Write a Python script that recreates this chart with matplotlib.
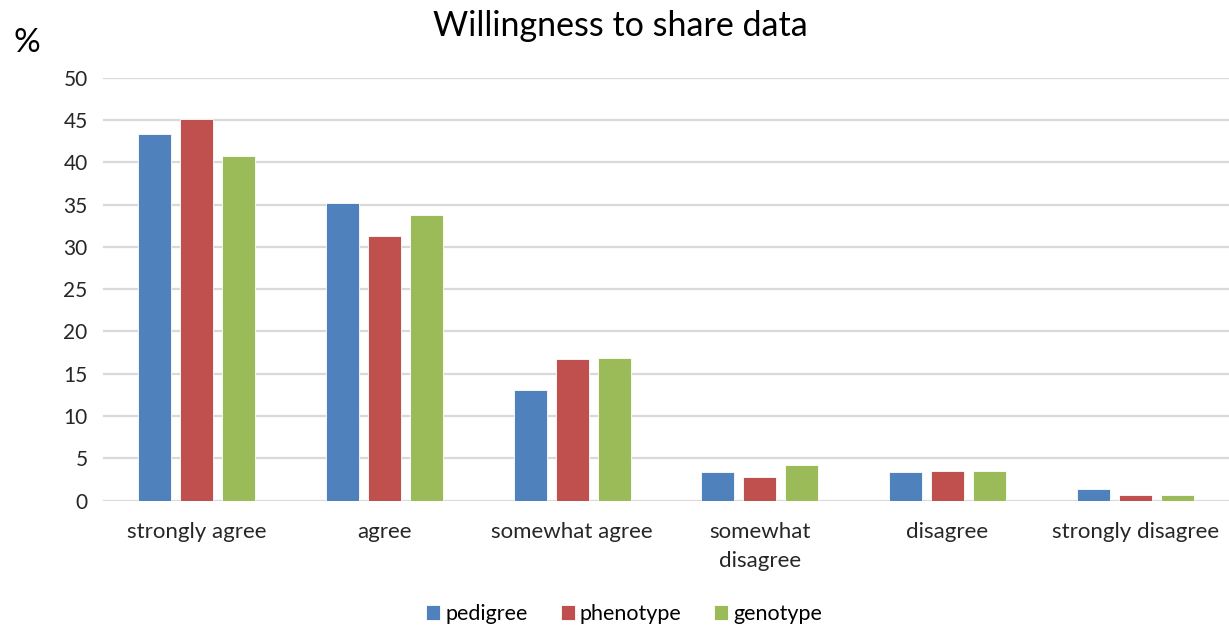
import numpy as np
import matplotlib
matplotlib.use("Agg")
import matplotlib.pyplot as plt

# ------------------------------------------------------------
# Data (in %)
# ------------------------------------------------------------
categories = ["strongly agree", "agree", "somewhat agree",
              "somewhat\ndisagree", "disagree", "strongly disagree"]
pedigree = [43.4, 35.2, 13.1, 3.4, 3.4, 1.4]
phenotype = [45.1, 31.3, 16.7, 2.8, 3.5, 0.7]
genotype = [40.7, 33.8, 16.9, 4.2, 3.5, 0.7]
y_ticks = [0, 5, 10, 15, 20, 25, 30, 35, 40, 45, 50]

series = [("pedigree", pedigree, "#4F81BD"),
          ("phenotype", phenotype, "#C0504D"),
          ("genotype", genotype, "#9BBB59")]

plt.rcParams['font.family'] = ['Lato', 'DejaVu Sans']

# ------------------------------------------------------------
# Figure and axes
# ------------------------------------------------------------
fig = plt.figure(figsize=(12.29, 6.28), dpi=100)
ax = fig.add_axes([0.0838, 0.2027, 0.9162, 0.6736])

x = np.arange(len(categories))
bar_w = 0.176
step = 0.224

for i, (name, values, color) in enumerate(series):
    ax.bar(x + (i - 1) * step, values, width=bar_w, color=color,
           edgecolor="white", linewidth=0.6, label=name, zorder=3)

ax.set_xlim(-0.5, len(categories) - 0.5)
ax.set_ylim(0, 50)
ax.set_yticks(y_ticks)
ax.set_xticks(x)
ax.set_xticklabels(categories, fontsize=16, color="#262626", linespacing=1.6)
ax.tick_params(axis="y", labelsize=15, colors="#262626", length=0, pad=11)
ax.tick_params(axis="x", length=0, pad=15)

# light horizontal gridlines, no frame
ax.yaxis.grid(True, color="#d9d9d9", linewidth=1.6, zorder=0)
ax.set_axisbelow(True)
for side in ["top", "right", "left", "bottom"]:
    ax.spines[side].set_visible(False)

# title and unit
fig.text(0.505, 0.958, "Willingness to share data", ha="center", va="center",
         fontsize=24.5, color="black")
fig.text(0.022, 0.932, "%", ha="center", va="center", fontsize=24, color="black")

# legend at the bottom
fig.legend(loc="center", bbox_to_anchor=(0.508, 0.022), ncol=3, frameon=False,
           fontsize=15.5, handlelength=0.65, handleheight=0.65,
           handletextpad=0.25, columnspacing=1.5)

fig.savefig("out.png", dpi=100)
